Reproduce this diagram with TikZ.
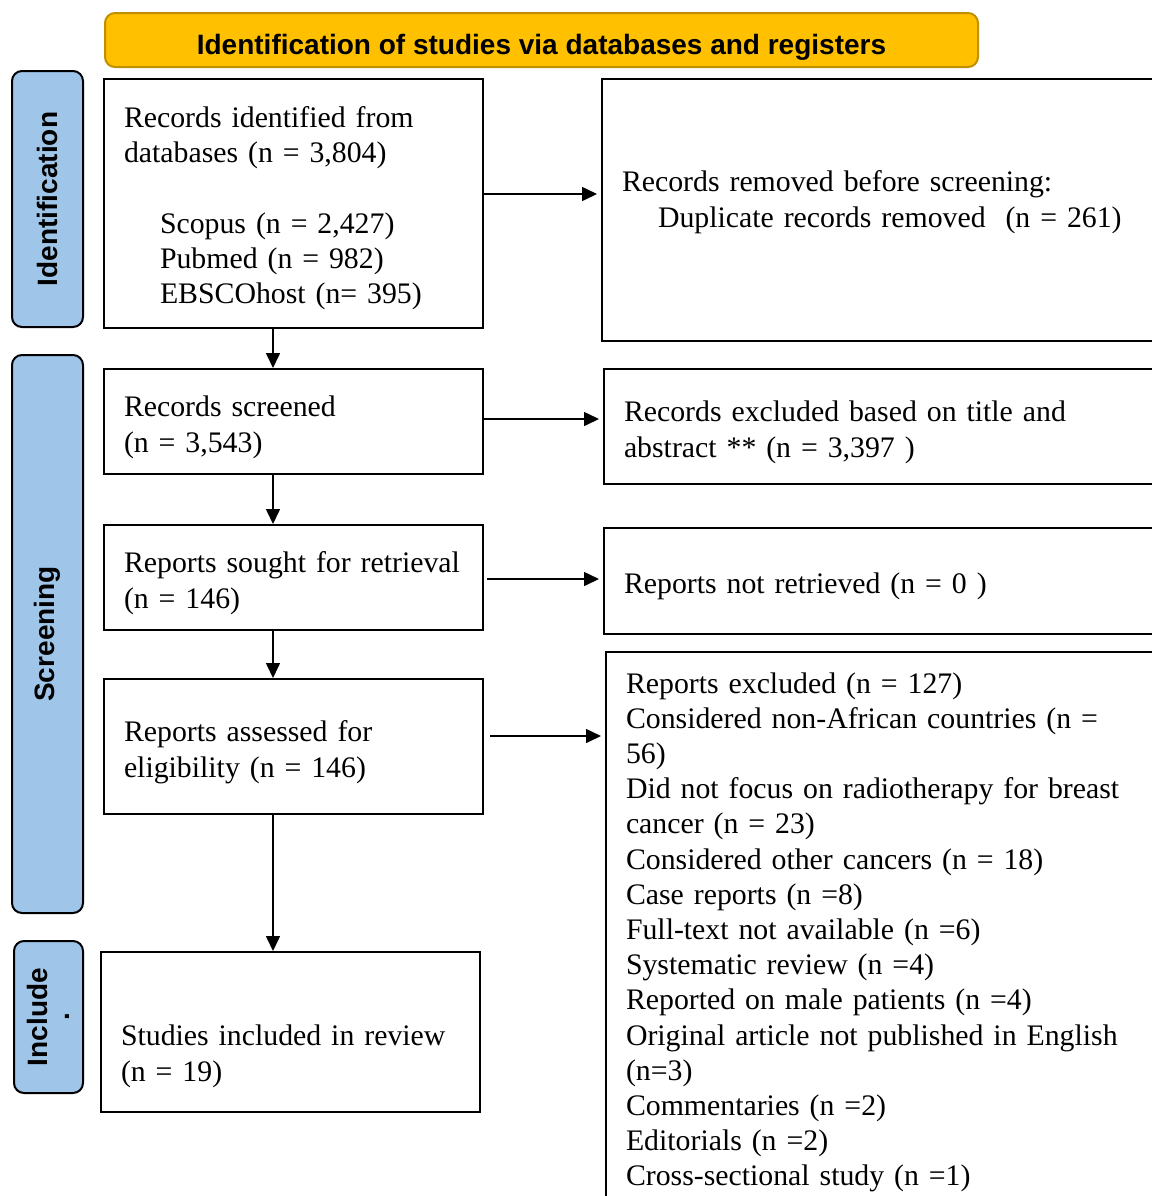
\documentclass[tikz,border=0pt]{standalone}
\usepackage{fontspec}
\setmainfont{Liberation Serif}
\newfontfamily\headfont{Liberation Sans}
\usetikzlibrary{arrows.meta}

\begin{document}
\begin{tikzpicture}[x=0.5pt, y=-0.5pt,
    box/.style={draw, line width=1pt, align=left, inner xsep=10pt, inner ysep=0pt,
      font=\fontsize{14.9}{17.6}\selectfont,
      execute at begin node={\rule{0pt}{#1}},
      execute at end node={\rule[-4pt]{0pt}{4pt}}},
    box/.default=16.9pt,
    side/.style={draw, line width=1pt, fill=side-blue, rounded corners=5pt, rotate=90,
      inner sep=0pt, font=\headfont\bfseries\fontsize{14}{16.8}\selectfont},
    arr/.style={-{Triangle[length=7.5pt,width=7pt]}, line width=0.8pt}]
    \definecolor{banner-gold}{HTML}{FFC000}
    \definecolor{banner-edge}{HTML}{C09000}
    \definecolor{side-blue}{HTML}{9FC5E8}
    \clip (0,0) rectangle (1152,1196);
    % heading and phase labels
    \node[draw=banner-edge, fill=banner-gold, line width=1pt, rounded corners=5pt,
      minimum width=436.5pt, minimum height=27pt, text height=14pt, text depth=0pt,
      font=\headfont\bfseries\fontsize{14}{16.8}\selectfont] (banner) at (541.5,40)
      {Identification of studies via databases and registers};
    \node[side, minimum width=128pt, minimum height=35.5pt] (lab-ident) at (47.5,199) {Identification};
    \node[side, minimum width=279pt, minimum height=35.5pt] (lab-screen) at (47.5,634) {Screening};
    \node[side, minimum width=76pt, minimum height=34.5pt, align=center] (lab-incl) at (48.5,1017) {Include\\[-6pt].};
    % main column
    \node[box=16pt, text width=169.5pt, minimum height=124.5pt] (ident) at (293.5,203.5)
      {Records identified from\\ databases (n = 3,804)\\[17.6pt]
       \hspace*{18pt}Scopus (n = 2,427)\\ \hspace*{18pt}Pubmed (n = 982)\\ \hspace*{18pt}EBSCOhost (n= 395)};
    \node[box, text width=169.5pt, minimum height=52.5pt] (screen) at (293.5,421.5)
      {Records screened\\ (n = 3,543)};
    \node[box, text width=169.5pt, minimum height=52.5pt] (sought) at (293.5,577.5)
      {\mbox{Reports sought for retrieval}\\ (n = 146)};
    \node[box, text width=169.5pt, minimum height=67.5pt] (assess) at (293.5,746.5)
      {Reports assessed for\\ eligibility (n = 146)};
    \node[box=35.4pt, text width=169.5pt, minimum height=80pt] (incl) at (290.5,1032)
      {Studies included in review\\ (n = 19)};
    % side column
    \node[box=15.4pt, text width=264pt, minimum height=131pt] (removed) at (886,210)
      {Records removed before screening:\\ \hspace*{18pt}Duplicate records removed\ \ (n = 261)\rule[-16pt]{0pt}{16pt}};
    \node[box, text width=263pt, minimum height=57.5pt] (excl) at (887,426.5)
      {Records excluded based on title and\\ abstract ** (n = 3,397 )};
    \node[box, text width=263pt, minimum height=53pt] (notret) at (887,581)
      {Reports not retrieved (n = 0 )};
    \node[box, text width=262pt, minimum height=276.5pt] (repexcl) at (888,928.5)
      {Reports excluded (n = 127)\\ Considered non-African countries (n =\\ 56)\\
       Did not focus on radiotherapy for breast\\ cancer (n = 23)\\
       Considered other cancers (n = 18)\\ Case reports (n =8)\\
       Full-text not available (n =6)\\ Systematic review (n =4)\\
       Reported on male patients (n =4)\\ Original article not published in English\\ (n=3)\\
       Commentaries (n =2)\\ Editorials (n =2)\\ Cross-sectional study (n =1)\rule[-6pt]{0pt}{6pt}};
    % connectors
    \draw[arr] (ident.south -| 273,0) -- (screen.north -| 273,0);
    \draw[arr] (screen.south -| 273,0) -- (sought.north -| 273,0);
    \draw[arr] (sought.south -| 273,0) -- (assess.north -| 273,0);
    \draw[arr] (assess.south -| 273,0) -- (incl.north -| 273,0);
    \draw[arr] (ident.east |- 0,194) -- ([xshift=-2pt]removed.west |- 0,194);
    \draw[arr] (screen.east |- 0,419) -- ([xshift=-2pt]excl.west |- 0,419);
    \draw[arr] ([xshift=1.5pt]sought.east |- 0,579) -- ([xshift=-2pt]notret.west |- 0,579);
    \draw[arr] ([xshift=3pt]assess.east |- 0,736) -- ([xshift=-2pt]repexcl.west |- 0,736);
  \end{tikzpicture}
\end{document}
